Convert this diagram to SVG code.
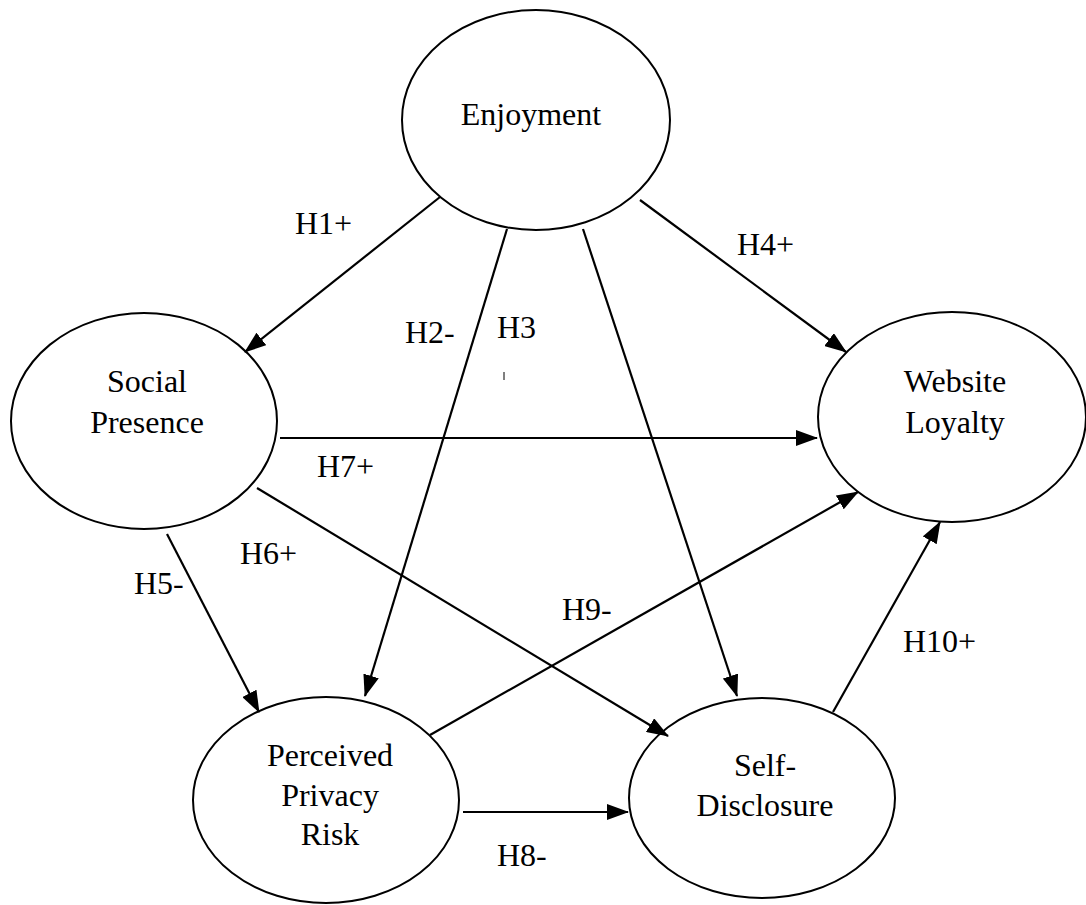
<svg xmlns="http://www.w3.org/2000/svg" width="1086" height="905" viewBox="0 0 1086 905">
<style>
.node ellipse{fill:#fff;stroke:#000;stroke-width:2}
text{font-family:"Liberation Serif","Times New Roman",serif;font-size:32px;fill:#000}
.nt{text-anchor:middle}
.conn line{stroke:#000;stroke-width:2.2;marker-end:url(#ah)}
</style>
<defs>
<marker id="ah" markerUnits="userSpaceOnUse" markerWidth="22" markerHeight="16" viewBox="0 0 22 16" refX="21" refY="8" orient="auto">
<path d="M0,0 L22,8 L0,16 z" fill="#000"/>
</marker>
</defs>
<rect width="1086" height="905" fill="#fff"/>
<g id="enjoyment" class="node">
<ellipse cx="536" cy="120" rx="134" ry="110"/>
<text class="nt" x="531" y="125">Enjoyment</text>
</g>
<g id="social-presence" class="node">
<ellipse cx="144" cy="421" rx="133" ry="108"/>
<text class="nt" x="147" y="392">Social</text>
<text class="nt" x="147" y="433">Presence</text>
</g>
<g id="website-loyalty" class="node">
<ellipse cx="952" cy="417" rx="134" ry="105"/>
<text class="nt" x="955" y="392">Website</text>
<text class="nt" x="955" y="433">Loyalty</text>
</g>
<g id="perceived-privacy-risk" class="node">
<ellipse cx="326" cy="800" rx="133" ry="103"/>
<text class="nt" x="330" y="766">Perceived</text>
<text class="nt" x="330" y="806">Privacy</text>
<text class="nt" x="330" y="845">Risk</text>
</g>
<g id="self-disclosure" class="node">
<ellipse cx="762" cy="798" rx="133" ry="100"/>
<text class="nt" x="765" y="776">Self-</text>
<text class="nt" x="765" y="816">Disclosure</text>
</g>
<g id="connectors" class="conn">
<line x1="440" y1="197" x2="245" y2="352"/>
<line x1="507" y1="229" x2="365" y2="696"/>
<line x1="583" y1="229" x2="737" y2="696"/>
<line x1="640" y1="200" x2="846" y2="352"/>
<line x1="280" y1="438" x2="817" y2="438"/>
<line x1="257" y1="488" x2="668" y2="736"/>
<line x1="167" y1="534" x2="259" y2="712"/>
<line x1="430" y1="735" x2="858" y2="492"/>
<line x1="463" y1="812" x2="628" y2="812"/>
<line x1="833" y1="712" x2="940" y2="522"/>
</g>
<g id="labels">
<text x="295" y="234">H1+</text>
<text x="405" y="343">H2-</text>
<text x="497" y="338">H3</text>
<line x1="504" y1="372" x2="504" y2="380" stroke="#000" stroke-width="1"/>
<text x="737" y="255">H4+</text>
<text x="134" y="594">H5-</text>
<text x="240" y="564">H6+</text>
<text x="317" y="477">H7+</text>
<text x="497" y="866">H8-</text>
<text x="562" y="620">H9-</text>
<text x="903" y="652">H10+</text>
</g>
</svg>
